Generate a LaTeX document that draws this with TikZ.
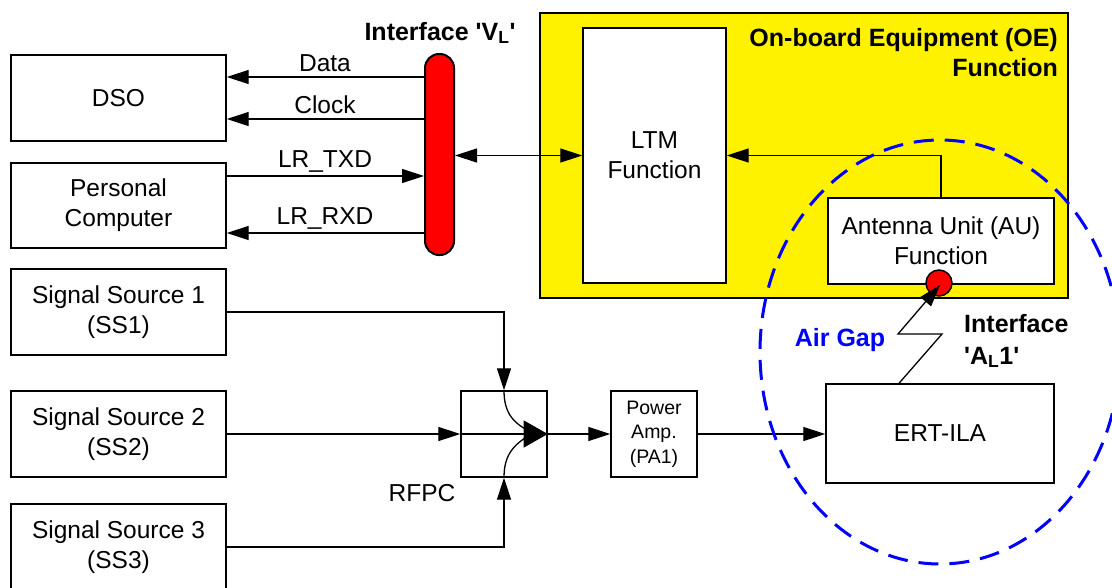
\documentclass[tikz,border=0pt]{standalone}
\usepackage{fontspec}
\setmainfont{Liberation Sans}
\usetikzlibrary{arrows.meta,calc}
\newcommand\myfs{\fontsize{24.5}{30}\selectfont}
\newcommand\mybfs{\fontsize{25}{30}\selectfont\bfseries}
\newcommand\mysmfs{\fontsize{19.5}{24.5}\selectfont}
\newcommand\sq{\textquotesingle}
\begin{document}
\begin{tikzpicture}[x=1pt,y=-1pt,
  box/.style={draw, line width=1.4pt, fill=white, align=center, inner sep=0pt, font=\myfs},
  arr/.style={line width=1.3pt, -{Triangle[length=22pt,width=14pt]}},
  darr/.style={line width=1.3pt, {Triangle[length=22pt,width=14pt]}-{Triangle[length=22pt,width=14pt]}},
  con/.style={line width=1.3pt},
  lbl/.style={font=\myfs, inner sep=0pt},
  blbl/.style={font=\mybfs, inner sep=0pt},
]
\clip (0,0) rectangle (1112,587);
\fill[white] (0,0) rectangle (1112,587);

% left boxes
\node[box, minimum width=215pt, minimum height=86pt] (dso) at (118.5,98) {DSO};
\node[box, minimum width=215pt, minimum height=85pt] (pc) at (118.5,205.5) {Personal\\Computer};
\node[box, minimum width=215pt, minimum height=86pt] (ss1) at (118.5,312) {Signal Source 1\\(SS1)};
\node[box, minimum width=215pt, minimum height=86pt] (ss2) at (118.5,434) {Signal Source 2\\(SS2)};
\node[box, minimum width=215pt, minimum height=86pt] (ss3) at (118.5,547) {Signal Source 3\\(SS3)};

% interface V_L bar
\node[draw, line width=2pt, fill=red, rounded corners=14pt, minimum width=29pt, minimum height=201pt, inner sep=0pt] (vl) at (439.5,154.5) {};
\node[blbl] (vllbl) at (440,33) {Interface \sq V\textsubscript{L}\sq};

% OE yellow box
\node[draw, line width=1.4pt, fill=yellow, minimum width=528pt, minimum height=285pt, inner sep=0pt] (oe) at (804,155.5) {};
\node[blbl, align=right, anchor=east] (oelbl) at (1058,52.5) {On-board Equipment (OE)\\Function};
\node[box, minimum width=143pt, minimum height=255pt] (ltm) at (654.5,155.5) {LTM\\Function};
\node[box, minimum width=226pt, minimum height=86pt] (au) at (941,241) {Antenna Unit (AU)\\Function};

% connectors left
\draw[arr] (vl.west |- 0,77) -- (dso.east |- 0,77);
\draw[arr] (vl.west |- 0,119) -- (dso.east |- 0,119);
\draw[arr] (pc.east |- 0,176) -- (vl.west |- 0,176);
\draw[arr] (vl.west |- 0,233) -- (pc.east |- 0,233);
\node[lbl] (ldata) at (325,63) {Data};
\node[lbl] (lclock) at (325,105) {Clock};
\node[lbl] (ltxd) at (325,162) {LR\_TXD};
\node[lbl] (lrxd) at (325,219) {LR\_RXD};

\draw[darr] (vl.east |- ltm.west) -- (ltm.west);
\draw[arr] (au.north) |- (ltm.east);

% RF chain
\node[box, minimum width=86pt, minimum height=86pt] (rfpc) at (504,434) {};
\node[box, minimum width=86pt, minimum height=86pt, font=\mysmfs] (pa) at (654,434) {Power\\Amp.\\(PA1)};
\node[box, minimum width=228pt, minimum height=99pt] (ert) at (940,433.5) {ERT-ILA};
\node[lbl] (rfpclbl) at (422,493) {RFPC};

\draw[arr] (ss1.east) -| (rfpc.north);
\draw[arr] (ss2.east) -- (rfpc.west);
\draw[arr] (ss3.east) -| (rfpc.south);
\draw[con] (rfpc.north) .. controls (504,414) and (514,424) .. (533,433);
\draw[con] (rfpc.south) .. controls (504,454) and (514,444) .. (533,433);
\draw[line width=1.3pt, -{Triangle[length=24pt,width=27pt]}] (rfpc.west) -- (rfpc.east);
\draw[arr] (rfpc.east) -- (pa.west);
\draw[arr] (pa.east) -- (pa.east -| ert.west);

% antenna interface
\node[circle, draw, line width=1.5pt, fill=red, minimum size=26pt, inner sep=0pt] (ant) at (939,283) {};
\coordinate (z1) at (942,334);
\coordinate (z2) at (898,334);
\draw[arr] (ert.north -| 899,0) -- (z1) -- (z2) -- ($(ant.center)+(1,2)$);
\node[blbl, text=blue] (airgap) at (840,340) {Air Gap};
\node[blbl, align=left, anchor=west, font=\fontsize{25}{32}\selectfont\bfseries] (a1lbl) at (964,341) {Interface\\\sq A\textsubscript{L}1\sq};

% air gap ellipse
\draw[blue, line width=3pt, dash pattern=on 20pt off 11pt] (940,352) ellipse [x radius=180, y radius=212];
\end{tikzpicture}
\end{document}
